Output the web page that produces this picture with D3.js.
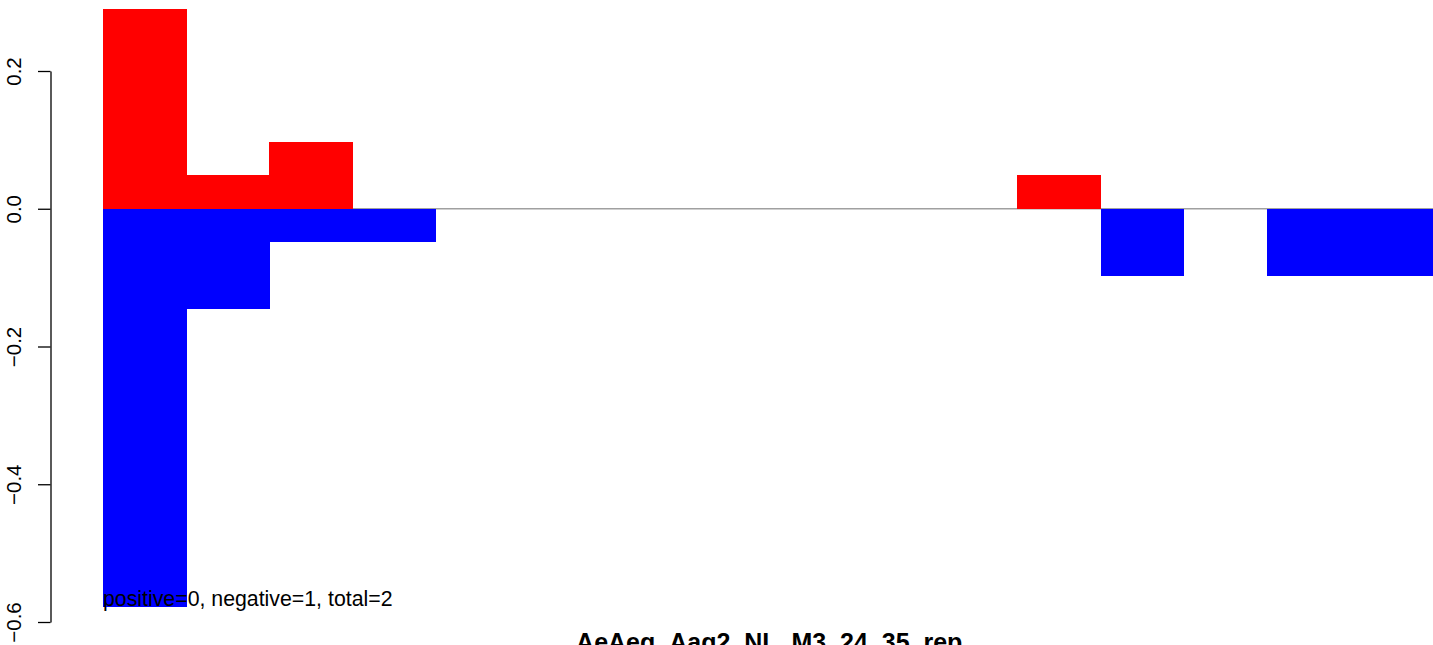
<!DOCTYPE html>
<html>
<head>
<meta charset="utf-8">
<script src="https://cdn.jsdelivr.net/npm/d3@7"></script>
<style>
  html, body { margin: 0; padding: 0; background: #fff; }
  svg { display: block; }
  text { font-family: "Liberation Sans", Arial, Helvetica, sans-serif; }
</style>
</head>
<body>
<svg id="chart" width="1433" height="645"></svg>
<script>
// ---- data ----
const bins = ["1","2","3","4","5","6","7","8","9","10","11","12","13","14","15","16"];
const positiveValues = [0.29, 0.049, 0.097, 0, 0, 0, 0, 0, 0, 0, 0, 0.049, 0, 0, 0, 0];
const negativeValues = [-0.578, -0.145, -0.049, -0.049, 0, 0, 0, 0, 0, 0, 0, 0, -0.097, 0, -0.097, -0.097];
const yTicks = [-0.6, -0.4, -0.2, 0.0, 0.2];
const titleText = "AeAeg_Aag2_NL_M3_24_35_rep";
const noteText = "positive=0, negative=1, total=2";

// ---- layout ----
const svg = d3.select("#chart");
const plotLeft = 50.5, plotRight = 1488;
const x = d3.scaleBand().domain(bins).range([103, 1433]).padding(0);
const y = d3.scaleLinear().domain([-0.6, 0.2]).range([622, 71]);

// zero line
svg.append("line")
  .attr("x1", x(bins[0])).attr("x2", 1433)
  .attr("y1", y(0)).attr("y2", y(0))
  .attr("stroke", "#a0a0a0").attr("stroke-width", 1.5);

// positive bars
svg.append("g").attr("shape-rendering", "crispEdges").selectAll("rect")
  .data(bins.map((b, i) => ({ b, v: positiveValues[i] })).filter(d => d.v > 0))
  .join("rect")
  .attr("x", d => x(d.b))
  .attr("width", x.bandwidth() + 0.5)
  .attr("y", d => y(d.v))
  .attr("height", d => y(0) - y(d.v))
  .attr("fill", "#ff0000");

// negative bars
svg.append("g").attr("shape-rendering", "crispEdges").selectAll("rect")
  .data(bins.map((b, i) => ({ b, v: negativeValues[i] })).filter(d => d.v < 0))
  .join("rect")
  .attr("x", d => x(d.b))
  .attr("width", x.bandwidth() + 0.5)
  .attr("y", y(0))
  .attr("height", d => y(d.v) - y(0))
  .attr("fill", "#0000ff");

// y axis
const axis = d3.axisLeft(y)
  .tickValues(yTicks)
  .tickFormat(d3.format(".1f"))
  .tickSize(12.5)
  .tickSizeOuter(0);
const gAxis = svg.append("g")
  .attr("transform", `translate(${plotLeft},0)`)
  .call(axis);
gAxis.select(".domain").attr("stroke", "#000").attr("stroke-width", 1.3);
gAxis.selectAll(".tick line").attr("stroke", "#000").attr("stroke-width", 1.3);
gAxis.selectAll(".tick text")
  .attr("x", null).attr("dy", null)
  .attr("transform", `translate(${20.7 - plotLeft},0) rotate(-90)`)
  .attr("text-anchor", "middle")
  .attr("fill", "#000")
  .style("font-size", "20.5px")
  .style("font-family", "'Liberation Sans', Arial, sans-serif");

// note text
svg.append("text")
  .attr("x", 103).attr("y", 606)
  .attr("font-size", 21.3)
  .attr("fill", "#000")
  .text(noteText);

// title (at bottom, partially cut off as in the reference)
svg.append("text")
  .attr("x", (plotLeft + plotRight) / 2)
  .attr("y", 651)
  .attr("text-anchor", "middle")
  .attr("font-size", 25)
  .attr("font-weight", "bold")
  .attr("fill", "#000")
  .text(titleText);
</script>
</body>
</html>
